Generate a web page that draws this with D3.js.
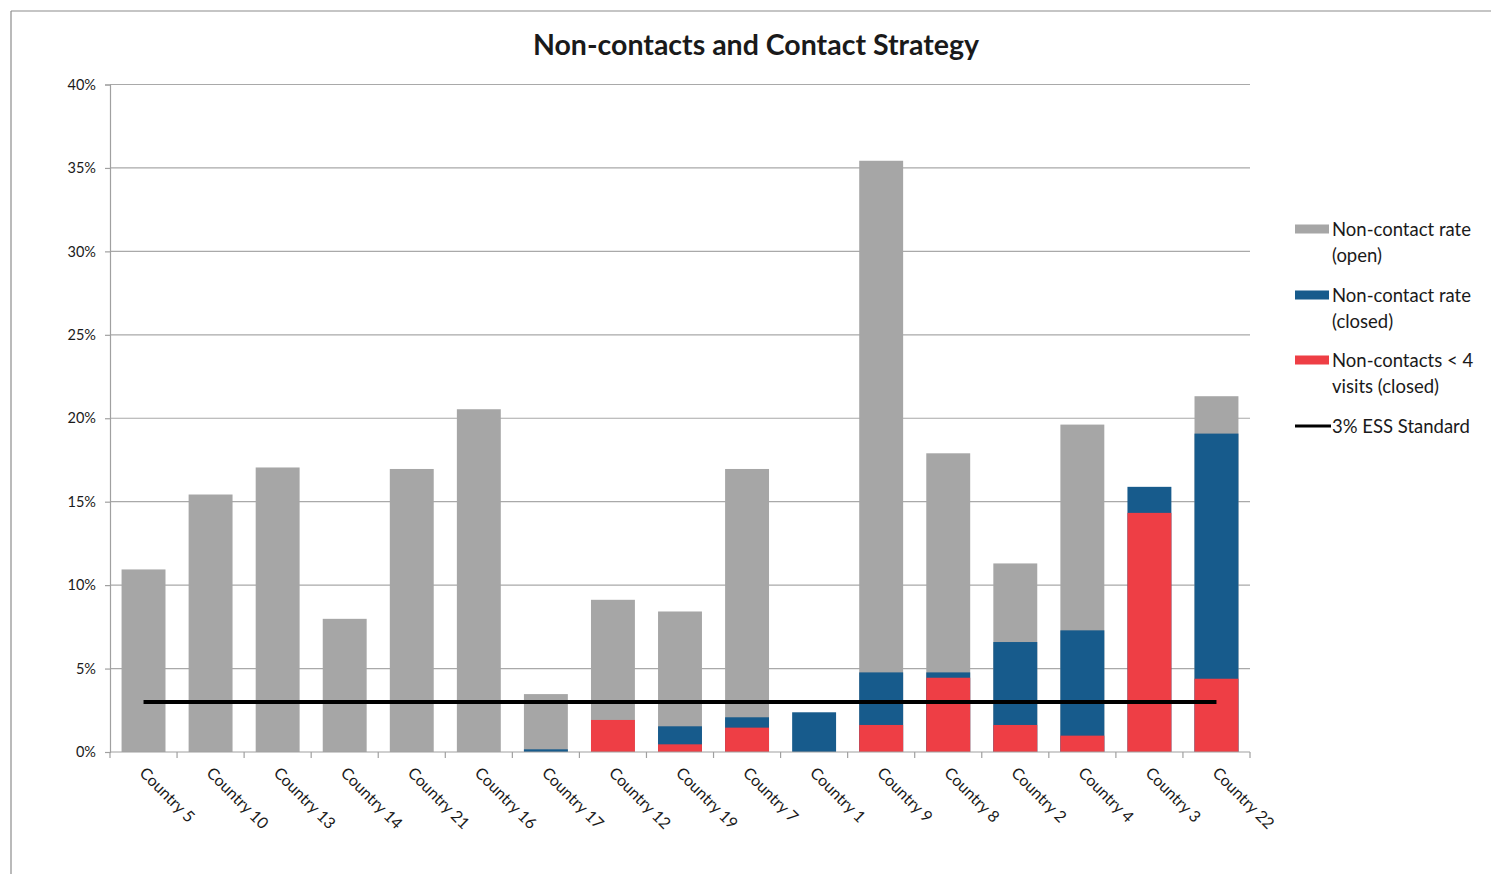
<!DOCTYPE html>
<html>
<head>
<meta charset="utf-8">
<script src="https://cdn.jsdelivr.net/npm/d3@7"></script>
<style>
  html, body { margin: 0; padding: 0; background: #fff; }
  svg { display: block; }
  text { font-family: Lato, "Open Sans", sans-serif; fill: #1a1a1a; }
</style>
</head>
<body>
<svg id="chart" width="1491" height="874"></svg>
<script>
const categories = ["Country 5","Country 10","Country 13","Country 14","Country 21","Country 16","Country 17","Country 12","Country 19","Country 7","Country 1","Country 9","Country 8","Country 2","Country 4","Country 3","Country 22"];
// Non-contact rate (open)
const openRate   = [10.94, 15.43, 17.05, 7.98, 16.96, 20.54, 3.47, 9.12, 8.42, 16.96, null, 35.43, 17.9, 11.3, 19.62, null, 21.32];
// Non-contact rate (closed)
const closedRate = [null, null, null, null, null, null, 0.16, null, 1.54, 2.08, 2.38, 4.77, 4.77, 6.59, 7.29, 15.89, 19.08];
// Non-contacts < 4 visits (closed)
const under4     = [null, null, null, null, null, null, null, 1.92, 0.46, 1.46, null, 1.62, 4.45, 1.62, 0.98, 14.33, 4.39];
const essStandard = 3;
const yTicks = [0, 5, 10, 15, 20, 25, 30, 35, 40];
const legendLines = [["Non-contact rate", "(open)"], ["Non-contact rate", "(closed)"], ["Non-contacts < 4", "visits (closed)"]];
const lineName = "3% ESS Standard";
const colors = ["#a6a6a6", "#175b8c", "#ee3e45"];

const svg = d3.select("#chart");

// outer frame (chart area border, partly cut off)
svg.append("line").attr("x1", 11).attr("x2", 1491).attr("y1", 11).attr("y2", 11).attr("stroke", "#8c8c8c").attr("stroke-width", 1.2);
svg.append("line").attr("x1", 11).attr("x2", 11).attr("y1", 11).attr("y2", 874).attr("stroke", "#8c8c8c").attr("stroke-width", 1.2);

const pLeft = 110, pRight = 1250, pTop = 84.5, pBottom = 752;
const x = d3.scaleBand().domain(categories).range([pLeft, pRight]).paddingInner(0.345).paddingOuter(0.1725);
const y = d3.scaleLinear().domain([0, 40]).range([pBottom, pTop]);

// title
svg.append("text").attr("x", 756).attr("y", 55).attr("text-anchor", "middle")
  .style("font-size", "28.5px").style("font-weight", "bold").attr("fill", "#111").text("Non-contacts and Contact Strategy");

// gridlines
svg.append("g").selectAll("line").data(yTicks.filter(t => t > 0)).join("line")
  .attr("x1", pLeft).attr("x2", pRight).attr("y1", d => y(d)).attr("y2", d => y(d))
  .attr("stroke", "#a9a9a9").attr("stroke-width", 1.2);

// y axis
const yAxis = svg.append("g").attr("transform", `translate(${pLeft},0)`)
  .call(d3.axisLeft(y).tickValues(yTicks).tickSize(5).tickPadding(9).tickFormat(d => d + "%"));
yAxis.select(".domain").attr("stroke", "#a0a0a0").attr("stroke-width", 1.2);
yAxis.selectAll(".tick line").attr("stroke", "#a0a0a0").attr("stroke-width", 1.2);
yAxis.selectAll(".tick text").style("font-size", "14.5px").style("font-family", "Lato, sans-serif").attr("fill", "#222");

// bars (overlapping, drawn from 0)
const seriesData = [openRate, closedRate, under4];
seriesData.forEach((vals, si) => {
  svg.append("g").selectAll("rect")
    .data(categories.map((c, i) => ({c, v: vals[i]})).filter(d => d.v != null))
    .join("rect")
    .attr("x", d => x(d.c)).attr("width", x.bandwidth())
    .attr("y", d => y(d.v)).attr("height", d => y(0) - y(d.v))
    .attr("fill", colors[si]);
});

// x axis
const xg = svg.append("g");
xg.append("line").attr("x1", pLeft).attr("x2", pRight).attr("y1", pBottom).attr("y2", pBottom)
  .attr("stroke", "#a0a0a0").attr("stroke-width", 1.2);
const step = x.step();
xg.selectAll("line.tk").data(d3.range(categories.length + 1)).join("line").attr("class", "tk")
  .attr("x1", i => pLeft + i * step).attr("x2", i => pLeft + i * step)
  .attr("y1", pBottom).attr("y2", pBottom + 6)
  .attr("stroke", "#a0a0a0").attr("stroke-width", 1.2);
xg.selectAll("text").data(categories).join("text")
  .attr("transform", d => `translate(${x(d) + x.bandwidth() / 2 - 5},${pBottom + 22}) rotate(45)`)
  .style("font-size", "16px").attr("fill", "#222").text(d => d);

// 3% ESS Standard line
svg.append("line")
  .attr("x1", x(categories[0]) + x.bandwidth() / 2)
  .attr("x2", x(categories[categories.length - 1]) + x.bandwidth() / 2)
  .attr("y1", y(essStandard)).attr("y2", y(essStandard))
  .attr("stroke", "#000").attr("stroke-width", 4);

// legend
const lg = svg.append("g");
const legendY = [229, 295, 360];
legendLines.forEach((lines, i) => {
  lg.append("rect").attr("x", 1295).attr("y", legendY[i] - 4.5).attr("width", 34).attr("height", 9).attr("fill", colors[i]);
  lines.forEach((t, j) => {
    lg.append("text").attr("x", 1332).attr("y", legendY[i] + 6.5 + j * 26).style("font-size", "18.5px").attr("fill", "#222").text(t);
  });
});
lg.append("line").attr("x1", 1295).attr("x2", 1331).attr("y1", 426).attr("y2", 426).attr("stroke", "#000").attr("stroke-width", 3);
lg.append("text").attr("x", 1332).attr("y", 432.5).style("font-size", "18.5px").attr("fill", "#222").text(lineName);
</script>
</body>
</html>
